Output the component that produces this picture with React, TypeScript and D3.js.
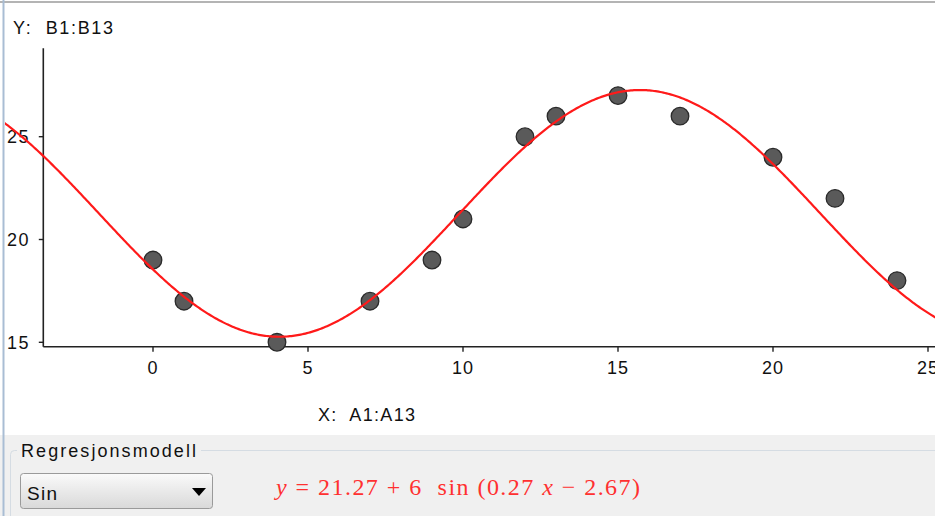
import { useEffect, useRef } from "react";
import * as d3 from "d3";

// data points (A1:A13, B1:B13)
const xValues = [0, 1, 4, 7, 9, 10, 12, 13, 15, 17, 20, 22, 24];
const yValues = [19, 17, 15, 17, 19, 21, 25, 26, 27, 26, 24, 22, 18];
const xTicks = [0, 5, 10, 15, 20, 25];
const yTicks = [15, 20, 25];

// regression model y = a + b sin(c x + d)
const coefA = 21.27;
const coefB = 6;
const coefC = 0.27;
const coefD = -2.67;

const W = 935;
const H = 516;

const App = () => {
  const svgRef = useRef<SVGSVGElement>(null);

  useEffect(() => {
    if (!svgRef.current) return;
    d3.select(svgRef.current).selectAll("*").remove();

    const svg = d3.select(svgRef.current).attr("width", W).attr("height", H);
    const sans = "'Liberation Sans', Arial, sans-serif";

    const x = d3.scaleLinear().domain([0, 25]).range([153, 928]);
    const y = d3.scaleLinear().domain([15, 25]).range([342.3, 136.7]);

    const axisLeft = 43.3;
    const axisBottom = 346.7;
    const axisTop = 48.3;

    // background
    svg.append("rect").attr("width", W).attr("height", H).attr("fill", "#ffffff");

    const defs = svg.append("defs");
    defs
      .append("clipPath")
      .attr("id", "plotClip")
      .append("rect")
      .attr("x", 5)
      .attr("y", 3)
      .attr("width", W - 5)
      .attr("height", 432);
    const grad = defs
      .append("linearGradient")
      .attr("id", "comboGrad")
      .attr("x1", 0)
      .attr("y1", 0)
      .attr("x2", 0)
      .attr("y2", 1);
    grad.append("stop").attr("offset", "0%").attr("stop-color", "#fafafa");
    grad.append("stop").attr("offset", "100%").attr("stop-color", "#d9d9d9");

    // axis titles
    svg
      .append("text")
      .attr("x", 13)
      .attr("y", 34)
      .attr("font-family", sans)
      .attr("font-size", 18)
      .attr("fill", "#111")
      .attr("xml:space", "preserve")
      .attr("textLength", 100)
      .text("Y:  B1:B13");

    svg
      .append("text")
      .attr("x", 318)
      .attr("y", 421)
      .attr("font-family", sans)
      .attr("font-size", 18)
      .attr("fill", "#111")
      .attr("xml:space", "preserve")
      .attr("textLength", 97)
      .text("X:  A1:A13");

    // y axis
    svg
      .append("line")
      .attr("x1", axisLeft)
      .attr("x2", axisLeft)
      .attr("y1", axisTop)
      .attr("y2", axisBottom)
      .attr("stroke", "#222")
      .attr("stroke-width", 1.6);

    const yTick = svg.append("g").selectAll("g").data(yTicks).join("g");
    yTick
      .append("line")
      .attr("x1", axisLeft - 4.5)
      .attr("x2", axisLeft)
      .attr("y1", (d) => y(d))
      .attr("y2", (d) => y(d))
      .attr("stroke", "#222")
      .attr("stroke-width", 1.4);
    yTick
      .append("text")
      .attr("x", 30)
      .attr("y", (d) => y(d) + 6.5)
      .attr("text-anchor", "end")
      .attr("font-family", sans)
      .attr("font-size", 18)
      .attr("letter-spacing", 1.5)
      .attr("fill", "#111")
      .text((d) => d);

    // x axis
    svg
      .append("line")
      .attr("x1", axisLeft)
      .attr("x2", W)
      .attr("y1", axisBottom)
      .attr("y2", axisBottom)
      .attr("stroke", "#222")
      .attr("stroke-width", 1.6);

    const xTick = svg.append("g").selectAll("g").data(xTicks).join("g");
    xTick
      .append("line")
      .attr("x1", (d) => x(d))
      .attr("x2", (d) => x(d))
      .attr("y1", axisBottom)
      .attr("y2", axisBottom + 5)
      .attr("stroke", "#222")
      .attr("stroke-width", 1.4);
    xTick
      .append("text")
      .attr("x", (d) => x(d))
      .attr("y", 374)
      .attr("text-anchor", "middle")
      .attr("font-family", sans)
      .attr("font-size", 18)
      .attr("letter-spacing", 1)
      .attr("fill", "#111")
      .text((d) => d);

    // regression curve
    const xs = d3.range(x.invert(0), x.invert(W) + 0.1, 0.05);
    const curve = d3
      .line<number>()
      .x((d) => x(d))
      .y((d) => y(coefA + coefB * Math.sin(coefC * d + coefD)));

    // points
    svg
      .append("g")
      .selectAll("circle")
      .data(xValues.map((v, i) => [v, yValues[i]]))
      .join("circle")
      .attr("cx", (d) => x(d[0]))
      .attr("cy", (d) => y(d[1]))
      .attr("r", 8.8)
      .attr("fill", "#5a5a5a")
      .attr("stroke", "#2a2a2a")
      .attr("stroke-width", 1.3);

    svg
      .append("path")
      .attr("clip-path", "url(#plotClip)")
      .attr("d", curve(xs))
      .attr("fill", "none")
      .attr("stroke", "#ff1a1a")
      .attr("stroke-width", 2.2);

    // bottom panel
    svg
      .append("rect")
      .attr("x", 0)
      .attr("y", 435)
      .attr("width", W)
      .attr("height", H - 435)
      .attr("fill", "#f0f0f0");

    svg
      .append("rect")
      .attr("x", 10.5)
      .attr("y", 450.5)
      .attr("width", W + 20)
      .attr("height", 100)
      .attr("rx", 4)
      .attr("fill", "none")
      .attr("stroke", "#d5dce3")
      .attr("stroke-width", 1);
    svg
      .append("rect")
      .attr("x", 17)
      .attr("y", 445)
      .attr("width", 184)
      .attr("height", 10)
      .attr("fill", "#f0f0f0");
    svg
      .append("text")
      .attr("x", 21)
      .attr("y", 457)
      .attr("font-family", sans)
      .attr("font-size", 18)
      .attr("fill", "#111")
      .attr("textLength", 175)
      .text("Regresjonsmodell");

    // combo box
    svg
      .append("rect")
      .attr("x", 20.5)
      .attr("y", 473.5)
      .attr("width", 192)
      .attr("height", 35)
      .attr("rx", 3)
      .attr("fill", "url(#comboGrad)")
      .attr("stroke", "#9a9a9a");
    svg
      .append("text")
      .attr("x", 27)
      .attr("y", 500)
      .attr("font-family", sans)
      .attr("font-size", 19)
      .attr("fill", "#111")
      .attr("textLength", 30)
      .text("Sin");
    svg
      .append("path")
      .attr("d", "M192,488 L206,488 L199,496 Z")
      .attr("fill", "#000");

    // equation
    const eq = svg
      .append("text")
      .attr("x", 276)
      .attr("y", 495)
      .attr("font-family", "'Liberation Serif', 'Times New Roman', serif")
      .attr("font-size", 24)
      .attr("fill", "#ff3030")
      .attr("xml:space", "preserve")
      .attr("textLength", 364);
    eq.append("tspan").attr("font-style", "italic").text("y");
    eq.append("tspan").text(` = ${coefA} + ${coefB}  sin (${coefC} `);
    eq.append("tspan").attr("font-style", "italic").text("x");
    eq.append("tspan").text(` \u2212 ${Math.abs(coefD)})`);

    // window borders
    svg
      .append("line")
      .attr("x1", 0)
      .attr("x2", W)
      .attr("y1", 2)
      .attr("y2", 2)
      .attr("stroke", "#b4b4b4")
      .attr("stroke-width", 2);
    svg
      .append("line")
      .attr("x1", 3.5)
      .attr("x2", 3.5)
      .attr("y1", 0)
      .attr("y2", H)
      .attr("stroke", "#a9bdd4")
      .attr("stroke-width", 2);
  }, []);

  return (
    <svg
      ref={svgRef}
      style={{ position: "absolute", left: 0, top: 0, display: "block" }}
    />
  );
};

export default App;
